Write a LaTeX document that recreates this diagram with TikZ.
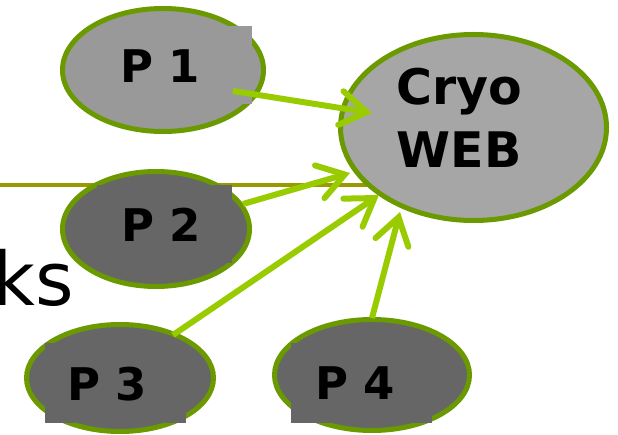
\documentclass[tikz,border=0pt]{standalone}
\usepackage{fontspec}
\setmainfont{DejaVu Sans}
\usetikzlibrary{shapes.geometric,arrows.meta}
\definecolor{rim}{HTML}{6B9900}
\definecolor{arrowgreen}{HTML}{99CC00}
\definecolor{rule}{HTML}{999900}
\definecolor{lightfill}{HTML}{999999}
\definecolor{webfill}{HTML}{A6A6A6}
\definecolor{darkfill}{HTML}{666666}
\tikzset{
  blob/.style={ellipse, draw=rim, line width=5pt, inner sep=0pt},
  tbox/.style={rectangle, inner sep=0pt, draw=none},
  plabel/.style={inner sep=0pt, font=\fontsize{45}{54}\selectfont\bfseries},
  link/.style={draw=arrowgreen, line width=6pt,
    -{Straight Barb[length=26pt, width=34pt, line cap=round]}},
}
\begin{document}
\begin{tikzpicture}[x=1pt, y=-1pt]
  \useasboundingbox (0,0) rectangle (618,435);

  % horizontal rule behind everything
  \coordinate (ruleL) at (-5,185);
  \coordinate (ruleR) at (400,185);
  \draw[rule, line width=4pt] (ruleL) -- (ruleR);

  % cut-off word on the left
  \node[inner sep=0pt, anchor=base east, font=\fontsize{74}{88}\selectfont] (ks) at (74,306) {ks};

  % ellipses
  \node[blob, fill=lightfill, minimum width=201pt, minimum height=123pt] (e1) at (163,70) {};
  \node[blob, fill=darkfill, minimum width=187pt, minimum height=115pt] (e2) at (156,229) {};
  \node[blob, fill=darkfill, minimum width=187pt, minimum height=107pt] (e3) at (120,378) {};
  \node[blob, fill=darkfill, minimum width=195pt, minimum height=111pt] (e4) at (372,375) {};
  \node[blob, fill=webfill, minimum width=266pt, minimum height=186pt] (web) at (473.5,127.5) {};

  % text boxes lying over the outlines
  \node[tbox, fill=lightfill, minimum width=140pt, minimum height=78pt] (b1) at (182,65) {};
  \node[tbox, fill=darkfill, minimum width=135pt, minimum height=78pt] (b2) at (164.5,224) {};
  \node[tbox, fill=darkfill, minimum width=141pt, minimum height=80pt] (b3) at (115.5,383) {};
  \node[tbox, fill=darkfill, minimum width=141pt, minimum height=80pt] (b4) at (361.5,383) {};

  % labels
  \node[plabel] (p1) at (160,66.5) {P 1};
  \node[plabel] (p2) at (161,225) {P 2};
  \node[plabel] (p3) at (107,384.5) {P 3};
  \node[plabel] (p4) at (355,383.5) {P 4};
  \node[inner sep=0pt, align=center, font=\fontsize{49}{63}\selectfont\bfseries] (cryo) at (459,118) {Cryo\\WEB};

  % connector ends
  \coordinate (s1) at (233,91);
  \coordinate (t1) at (372,113);
  \coordinate (s2) at (243,204);
  \coordinate (t2) at (350,173);
  \coordinate (s3) at (173,335);
  \coordinate (t3) at (379,195);
  \coordinate (s4) at (372,318);
  \coordinate (t4) at (400,212);

  \draw[link] (s1) -- (t1);
  \draw[link] (s2) -- (t2);
  \draw[link] (s3) -- (t3);
  \draw[link] (s4) -- (t4);
\end{tikzpicture}
\end{document}
